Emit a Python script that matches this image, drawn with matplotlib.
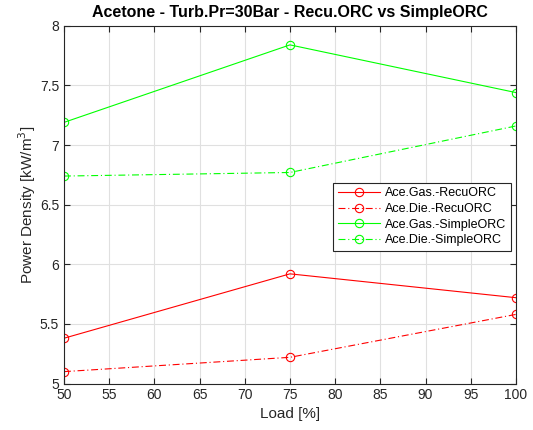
import matplotlib.pyplot as plt
from matplotlib.ticker import FuncFormatter

plt.rcParams['font.family'] = ['Liberation Sans', 'DejaVu Sans']
plt.rcParams['lines.scale_dashes'] = False

# Data
load = [50, 75, 100]
gas_recu = [5.38, 5.92, 5.72]
die_recu = [5.10, 5.22, 5.58]
gas_simple = [7.19, 7.84, 7.44]
die_simple = [6.74, 6.77, 7.16]

fig = plt.figure(figsize=(5.33, 4.30), dpi=100)
ax = fig.add_axes([0.120, 0.108, 0.848, 0.832])

red = (1, 0, 0)
green = (0, 1, 0)
dashdot = (0, (5, 2, 0.8, 2))
kw = dict(marker='o', markerfacecolor='none', markersize=6, linewidth=0.8, markeredgewidth=0.8)
ax.plot(load, gas_recu, linestyle='-', color=red, label='Ace.Gas.-RecuORC', **kw)
ax.plot(load, die_recu, linestyle=dashdot, color=red, label='Ace.Die.-RecuORC', **kw)
ax.plot(load, gas_simple, linestyle='-', color=green, label='Ace.Gas.-SimpleORC', **kw)
ax.plot(load, die_simple, linestyle=dashdot, color=green, label='Ace.Die.-SimpleORC', **kw)

ax.set_xlim(50, 100)
ax.set_ylim(5, 8)
ax.set_xticks(range(50, 101, 5))
ax.set_yticks([5, 5.5, 6, 6.5, 7, 7.5, 8])
ax.yaxis.set_major_formatter(FuncFormatter(lambda v, p: f'{v:g}'))
ax.grid(True, color=(0.88, 0.88, 0.88), linewidth=0.8)
ax.set_axisbelow(True)
ax.tick_params(direction='in', length=4, labelsize=10, colors=(0.15, 0.15, 0.15),
               top=True, right=True)
for s in ax.spines.values():
    s.set_color((0.15, 0.15, 0.15))
    s.set_linewidth(0.8)

ax.set_xlabel('Load [%]', fontsize=11, color=(0.15, 0.15, 0.15), labelpad=3)
ax.set_ylabel('Power Density [kW/m$^3$]', fontsize=11, color=(0.15, 0.15, 0.15), labelpad=1)
ax.set_title('Acetone - Turb.Pr=30Bar - Recu.ORC vs SimpleORC', fontsize=11.5, fontweight='bold', pad=6)

leg = ax.legend(loc='upper right', bbox_to_anchor=(0.989, 0.561), fontsize=9,
                fancybox=False, framealpha=1, edgecolor=(0.15, 0.15, 0.15),
                borderaxespad=0, handlelength=3.4, labelspacing=0.3,
                borderpad=0.35, handletextpad=0.4)
leg.get_frame().set_linewidth(0.8)

fig.savefig('out.png', dpi=100)
